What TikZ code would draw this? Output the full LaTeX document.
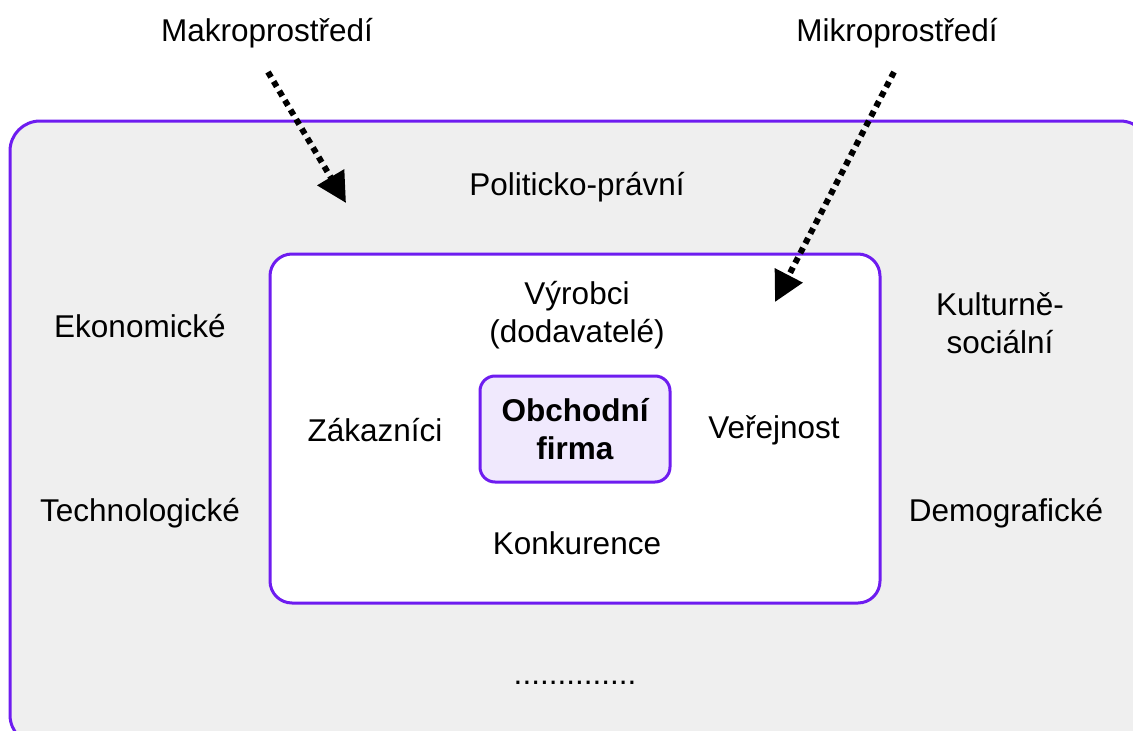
\documentclass[tikz,border=0pt]{standalone}
\usepackage{fontspec}
\setmainfont{Liberation Sans}
\usetikzlibrary{arrows.meta}
\definecolor{frame}{RGB}{110,28,240}
\definecolor{envgray}{RGB}{239,239,239}
\definecolor{corefill}{RGB}{240,233,253}
\tikzset{
  lbl/.style={font=\fontsize{31.5}{38}\selectfont, text=black, align=center, inner sep=0pt},
  zone/.style={draw=frame, line width=3pt},
  pointer/.style={line width=6pt, dash pattern=on 6pt off 5pt, -{Triangle[length=30pt,width=30pt]}}
}
\begin{document}
\begin{tikzpicture}[x=1pt,y=-1pt]
  \useasboundingbox (0,0) rectangle (1133,731);
  \fill[white] (0,0) rectangle (1133,731);
  \begin{scope}
    \clip (0,0) rectangle (1133,731);
    % macro environment
    \draw[zone, fill=envgray, rounded corners=30pt] (10,121) rectangle (1150,745);
    % micro environment
    \draw[zone, fill=white, rounded corners=22pt] (270,254) rectangle (880,603);
    % the firm itself
    \node[zone, fill=corefill, rounded corners=15pt, minimum width=190pt, minimum height=106pt,
          font=\fontsize{31.5}{38}\selectfont\bfseries, align=center, inner sep=0pt] (firm) at (575,429) {Obchodní\\firma};
  \end{scope}

  % macro factors
  \node[lbl] (pol) at (577,187) {Politicko-právní};
  \node[lbl] (eko) at (140,326) {Ekonomické};
  \node[lbl] (tech) at (140,513) {Technologické};
  \node[lbl] (kult) at (1000,323) {Kulturně-\\sociální};
  \node[lbl] (demo) at (1006,513) {Demografické};
  \node[lbl] (more) at (575,683) {..............};

  % micro factors
  \node[lbl] (vyr) at (577,315) {Výrobci\\(dodavatelé)};
  \node[lbl] (zak) at (375,430) {Zákazníci};
  \node[lbl] (ver) at (774,430) {Veřejnost};
  \node[lbl] (konk) at (577,543) {Konkurence};

  % headings with pointers
  \node[lbl] (makro) at (267,33) {Makroprostředí};
  \node[lbl] (mikro) at (897,33) {Mikroprostředí};
  \coordinate (makroStart) at (268,72);
  \coordinate (makroEnd) at (346,203);
  \coordinate (mikroStart) at (894,72);
  \coordinate (mikroEnd) at (775,302);
  \draw[pointer] (makroStart) -- (makroEnd);
  \draw[pointer] (mikroStart) -- (mikroEnd);
\end{tikzpicture}
\end{document}
